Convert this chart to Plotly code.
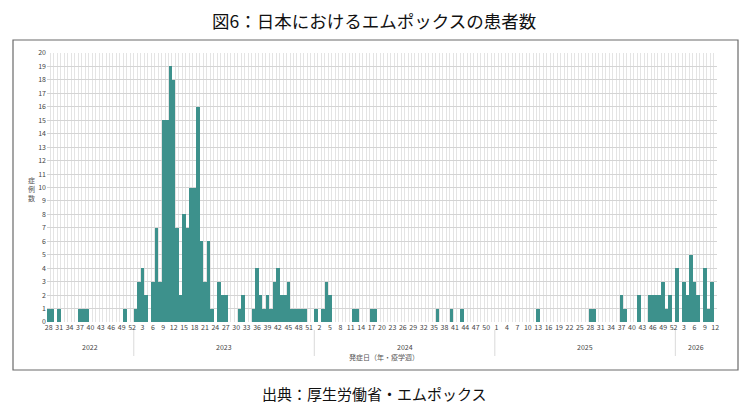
import plotly.graph_objects as go

# ---- data: weekly reported cases (epidemiological week) ----
weeks_2022 = list(range(28, 53))
counts_2022 = [1, 1, 0, 1, 0, 0, 0, 0, 0, 1, 1, 1, 0, 0, 0, 0, 0, 0, 0, 0, 0, 0, 1, 0, 0]

weeks_2023 = list(range(1, 53))
counts_2023 = [1, 3, 4, 2, 0, 3, 7, 3, 15, 15, 19, 18, 7, 2, 8, 7, 10, 10, 16, 6,
               3, 6, 1, 0, 3, 2, 2, 0, 0, 0, 1, 2, 0, 0, 1, 4, 2, 1, 2, 1,
               3, 4, 2, 2, 3, 1, 1, 1, 1, 1, 0, 0]

weeks_2024 = list(range(1, 53))
counts_2024 = [1, 0, 1, 3, 2, 0, 0, 0, 0, 0, 0, 1, 1, 0, 0, 0, 1, 1, 0, 0,
               0, 0, 0, 0, 0, 0, 0, 0, 0, 0, 0, 0, 0, 0, 0, 1, 0, 0, 0, 1,
               0, 0, 1, 0, 0, 0, 0, 0, 0, 0, 0, 0]

weeks_2025 = list(range(1, 53))
counts_2025 = [0, 0, 0, 0, 0, 0, 0, 0, 0, 0, 0, 0, 1, 0, 0, 0, 0, 0, 0, 0,
               0, 0, 0, 0, 0, 0, 0, 1, 1, 0, 0, 0, 0, 0, 0, 0, 2, 1, 0, 0,
               0, 2, 0, 0, 2, 2, 2, 2, 3, 1, 2, 0]

weeks_2026 = list(range(1, 13))
counts_2026 = [4, 0, 3, 2, 5, 3, 2, 0, 4, 1, 3, 0]

years = ["2022", "2023", "2024", "2025", "2026"]
year_weeks = [weeks_2022, weeks_2023, weeks_2024, weeks_2025, weeks_2026]
year_counts = [counts_2022, counts_2023, counts_2024, counts_2025, counts_2026]

title_text = "図6：日本におけるエムポックスの患者数"
source_text = "出典：厚生労働省・エムポックス"
x_title = "発症日（年・疫学週）"
y_title = "症例数"

# ---- build a continuous week index ----
x_idx, y_vals, week_lbl = [], [], []
year_spans = []
i = 0
for yr, wks, cts in zip(years, year_weeks, year_counts):
    start = i
    for w, c in zip(wks, cts):
        x_idx.append(i)
        y_vals.append(c)
        week_lbl.append(str(w))
        i += 1
    year_spans.append((yr, start, i - 1))
n = len(x_idx)

tick_vals = x_idx[::3]
tick_text = week_lbl[::3]

FONT = "Noto Sans CJK JP"
BAR = "#3d918c"

# page offset (body margin) compensation
OFF = 8
PL, PR, PT, PB = 47, 717, 53, 322          # plot area in window pixels
W, H = 750 - OFF, 412 - OFF


def px(xw):
    return (xw - PL) / (PR - PL)


def py(yw):
    return (PB - yw) / (PB - PT)


fig = go.Figure()
fig.add_trace(go.Bar(x=x_idx, y=y_vals, marker=dict(color=BAR, line=dict(width=0)),
                     width=1.0, showlegend=False))

fig.update_layout(
    width=W, height=H,
    margin=dict(l=PL - OFF, r=W - (PR - OFF), t=PT - OFF, b=H - (PB - OFF), pad=0),
    paper_bgcolor="white", plot_bgcolor="white",
    bargap=0,
    font=dict(family=FONT, color="#555555", size=7),
    xaxis=dict(
        range=[-0.5, n - 0.5],
        tickmode="array", tickvals=tick_vals, ticktext=tick_text,
        tickfont=dict(size=7, color="#444444"),
        showgrid=False, zeroline=False, showline=False, ticks="",
        minor=dict(tickmode="linear", tick0=0.5, dtick=1, showgrid=True,
                   gridcolor="#e4e4e4", gridwidth=0.6),
    ),
    yaxis=dict(
        range=[0, 20], dtick=1,
        tickfont=dict(size=7, color="#444444"),
        showgrid=True, gridcolor="#d4d4d4", gridwidth=0.7,
        zeroline=False, showline=False, ticks="", ticklen=0,
    ),
)

# outer frame
fig.add_shape(type="rect", xref="paper", yref="paper",
              x0=px(13), x1=px(738), y0=py(370), y1=py(40),
              line=dict(color="#6a6a6a", width=1.2), fillcolor="rgba(0,0,0,0)",
              layer="below")

# year group labels and separators
for k, (yr, s, e) in enumerate(year_spans):
    fig.add_annotation(x=(s + e) / 2, xref="x", y=py(347), yref="paper",
                       text=yr, showarrow=False, yanchor="middle",
                       font=dict(size=7, color="#444444"))
    if k > 0:
        fig.add_shape(type="line", xref="x", yref="paper",
                      x0=s - 0.5, x1=s - 0.5, y0=py(330), y1=py(356),
                      line=dict(color="#cfcfcf", width=0.8))

# axis titles
fig.add_annotation(x=px(384), xref="paper", y=py(357), yref="paper", text=x_title,
                   showarrow=False, yanchor="middle",
                   font=dict(size=7, color="#555555"))
fig.add_annotation(x=px(26), xref="paper", y=py(189), yref="paper",
                   text="<br>".join(list(y_title)), showarrow=False,
                   font=dict(size=7, color="#555555"))

# title and source
fig.add_annotation(x=px(374), xref="paper", y=py(20.5), yref="paper",
                   text=title_text, showarrow=False, yanchor="middle",
                   font=dict(size=17.5, color="#111111", family=FONT))
fig.add_annotation(x=px(374), xref="paper", y=py(393), yref="paper",
                   text=source_text, showarrow=False, yanchor="middle",
                   font=dict(size=15, color="#111111", family=FONT))

fig.write_html("out.html")
